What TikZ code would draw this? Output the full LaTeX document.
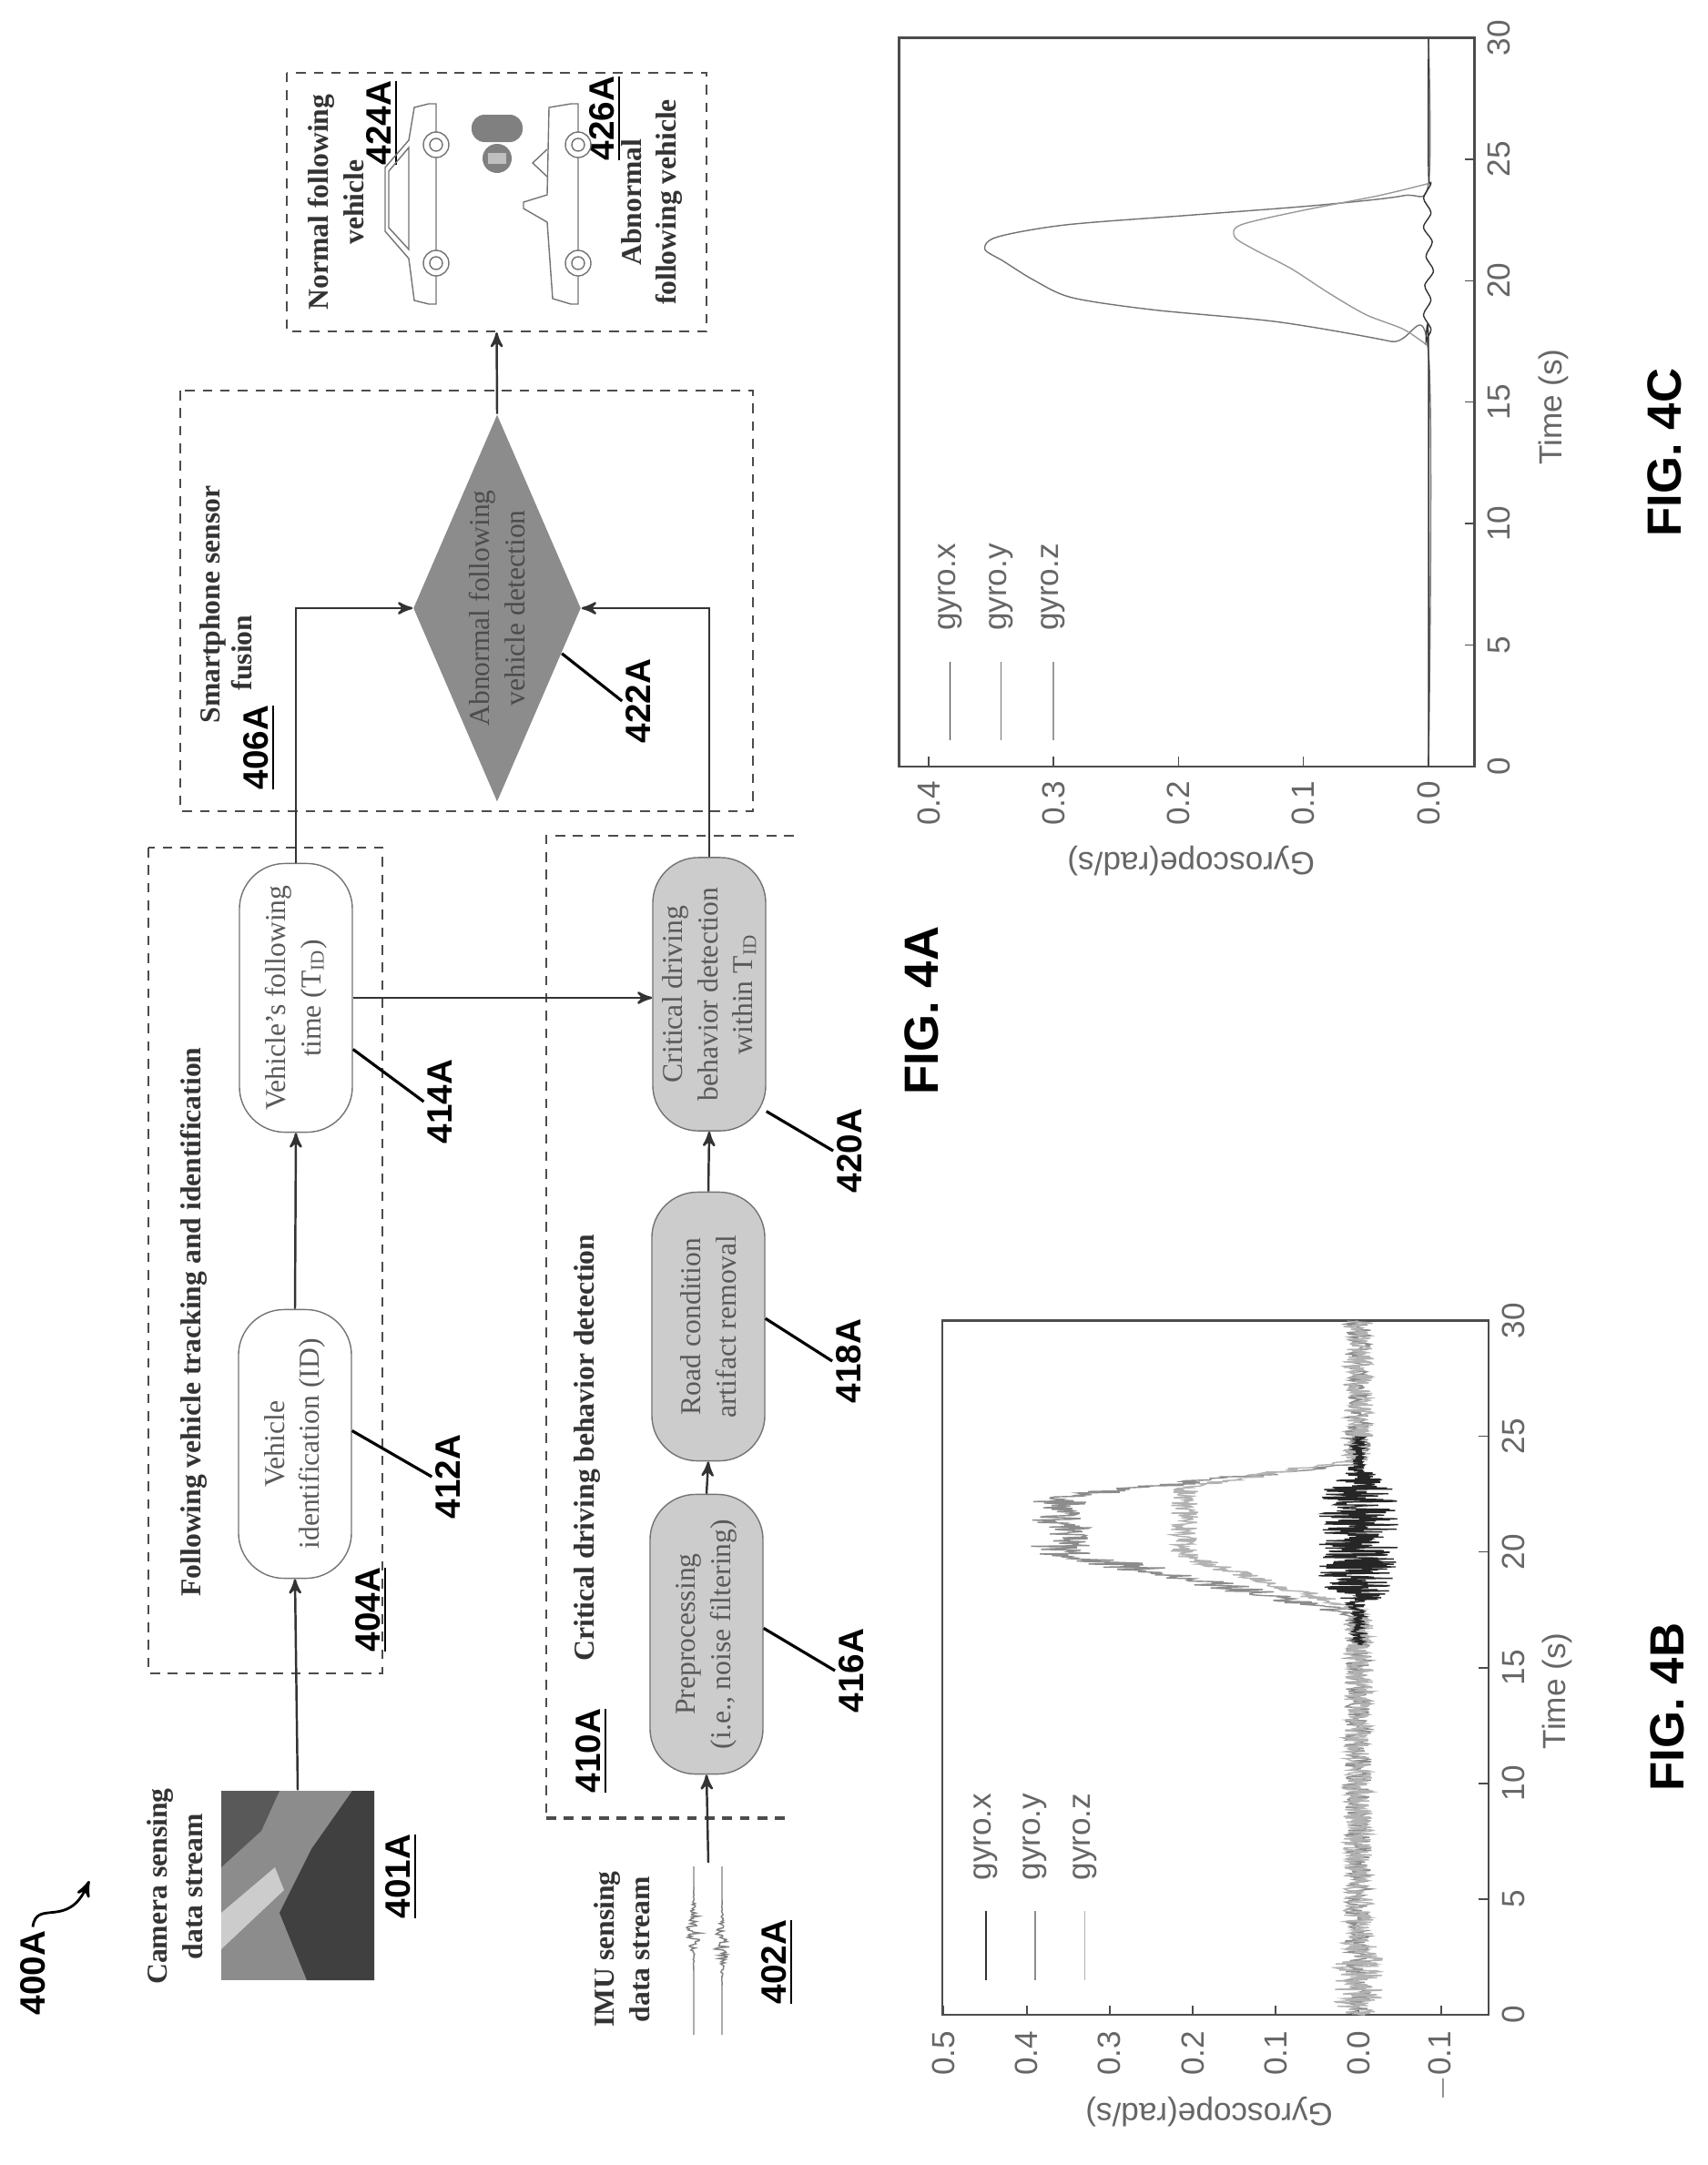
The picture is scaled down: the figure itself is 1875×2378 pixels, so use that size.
\documentclass[tikz,border=0pt]{standalone}
\usepackage{fontspec}
\setmainfont{Liberation Serif}
\setsansfont{Liberation Sans}
\usetikzlibrary{positioning}
\usetikzlibrary{arrows}
\usetikzlibrary{calc}
\usetikzlibrary{shapes.geometric}
\tikzset{>=stealth'}
\tikzset{proc/.style={draw=black!55, rounded corners=5mm, rotate=90, minimum width=2.95cm, minimum height=1.24cm, align=center, text=black!65, font=\fontsize{9}{11}\selectfont, inner sep=2pt}}
\tikzset{procg/.style={proc, fill=black!20}}
\tikzset{grp/.style={draw=black!70, dash pattern=on 3pt off 2.5pt, line width=0.6pt}}
\tikzset{lbl/.style={rotate=90, font=\sffamily\bfseries\fontsize{11}{13}\selectfont, inner sep=1pt}}
\tikzset{ttl/.style={rotate=90, font=\bfseries\fontsize{9}{11}\selectfont, align=center, text=black!80}}
\tikzset{fig/.style={rotate=90, font=\sffamily\bfseries\fontsize{15}{17}\selectfont}}
\tikzset{tick/.style={rotate=90, font=\sffamily\fontsize{10}{12}\selectfont, text=black!60, inner sep=2pt}}
\tikzset{lead/.style={line width=0.9pt}}
\tikzset{flow/.style={->, line width=0.7pt, black!80}}
\tikzset{declare function={trap(\t,\a,\b,\c,\d,\e)=\a*max(0,min(1,(\t-\b)/(\c-\b),(\e-\t)/(\e-\d)));}}

\begin{document}
\begin{tikzpicture}[x=0.01cm, y=-0.01cm]
    \useasboundingbox (0,0) rectangle (1875,2378);
    \pgfmathsetseed{42}

    % groups
    \draw[grp] (163,931) rectangle (420,1838);
    \draw[grp] (198,429) rectangle (827,891);
    \draw[grp] (872,918) -- (600,918) -- (600,1997);
    \draw[grp, line width=1.2pt] (600,1997) -- (866,1997);

    % blocks
    \node[proc] (n412) at (324,1586) {Vehicle\\identification (ID)};
    \node[proc] (n414) at (325,1096) {Vehicle's following\\time (T$_{\mathrm{ID}}$)};
    \node[procg, minimum width=3.07cm] (n416) at (776,1795) {Preprocessing\\(i.e., noise filtering)};
    \node[procg] (n418) at (778,1457) {Road condition\\artifact removal};
    \node[procg, minimum width=3cm] (n420) at (779,1092) {Critical driving\\behavior detection\\within T$_{\mathrm{ID}}$};
    \node[diamond, rotate=90, fill=black!45, shape aspect=2.3, minimum width=4.25cm, minimum height=1.84cm, inner sep=0pt, align=center, text=black!70, font=\fontsize{9}{11}\selectfont] (n422) at (546,668) {Abnormal following\\vehicle detection};
    \node[grp, rotate=90, minimum width=2.84cm, minimum height=4.61cm] (box424) at (545.5,222) {};
    \node[rotate=90, fill=black!45, minimum width=2.08cm, minimum height=1.68cm, inner sep=0pt] (cam) at (327,2071) {};
    \coordinate (imu) at (778,2046);

    % titles
    \node[ttl] (t404) at (213,1452) {Following vehicle tracking and identification};
    \node[ttl] (t410) at (645,1590) {Critical driving behavior detection};
    \node[ttl] (t406) at (234,664) {Smartphone sensor};
    \node[ttl] (t406b) at (266,717) {fusion};
    \node[ttl] (tcam) at (192,2072) {Camera sensing\\data stream};
    \node[ttl] (timu) at (683,2141) {IMU sensing\\data stream};
    \node[ttl] (t424) at (369,222) {Normal following\\vehicle};
    \node[ttl] (t426) at (716,222) {Abnormal\\following vehicle};

    % reference labels
    \node[lbl] (l400) at (36,2167) {400A};
    \node[lbl] (l401) at (441,2061) {\underline{401A}};
    \node[lbl] (l402) at (854,2155) {\underline{402A}};
    \node[lbl] (l404) at (408,1768) {\underline{404A}};
    \node[lbl] (l406) at (285,821) {\underline{406A}};
    \node[lbl] (l410) at (650,1923) {\underline{410A}};
    \node[lbl] (l412) at (492,1622) {412A};
    \node[lbl] (l414) at (483,1210) {414A};
    \node[lbl] (l416) at (935,1835) {416A};
    \node[lbl] (l418) at (932,1495) {418A};
    \node[lbl] (l420) at (933,1264) {420A};
    \node[lbl] (l422) at (701,770) {422A};
    \node[lbl] (l424) at (420,135) {\underline{424A}};
    \node[lbl] (l426) at (665,130) {\underline{426A}};
    \node[fig] (f4a) at (1012,1110) {FIG. 4A};
    \node[fig] (f4b) at (1831,1875) {FIG. 4B};
    \node[fig] (f4c) at (1828,497) {FIG. 4C};

    % flow
    \draw[flow] (cam.east) -- (n412.west);
    \draw[flow] (n412.east) -- (n414.west);
    \draw[flow] (imu) -- (n416.west);
    \draw[flow] (n416.east) -- (n418.west);
    \draw[flow] (n418.east) -- (n420.west);
    \draw[flow] (n414.south) -- (n414.south -| n420.north);
    \draw[flow] (n414.east) |- (n422.north);
    \draw[flow] (n420.east) |- (n422.south);
    \draw[flow] (n422.east) -- (box424.west);

    % leaders
    \draw[lead] (n412.-77) -- (l412.north);
    \draw[lead] (n414.-132) -- (l414.north);
    \draw[lead] (n416.-84) -- (l416.north);
    \draw[lead] (n418.-82) -- (l418.north);
    \draw[lead] (n420.-154) -- (l420.north);
    \draw[lead] (n422.-125) -- (l422.north);
    \coordinate (c400) at (98,2066);
    \draw[->, line width=0.8pt] (l400.east) .. controls (40,2085) and (75,2120) .. (c400);

    % camera frame picture
    \begin{scope}[shift={(327,2071)}, rotate=90]
        \fill[black!75] (-104,10) -- (-30,-20) -- (40,15) -- (104,60) -- (104,84) -- (-104,84) -- cycle;
        \fill[black!20] (-70,-84) -- (-30,-84) -- (20,-25) -- (-5,-15) -- cycle;
        \fill[black!65] (20,-84) -- (104,-84) -- (104,-20) -- (60,-40) -- cycle;
    \end{scope}

    % imu traces
    \draw[black!50] plot[domain=2050:2235, samples=160] ({762+9*exp(-((\x-2120)/22)^2)*rand}, \x);
    \draw[black!50] plot[domain=2050:2235, samples=160] ({793+9*exp(-((\x-2135)/22)^2)*rand}, \x);

    % vehicles
    \begin{scope}[shift={(453,224)}, rotate=90, black!55]
        \draw (-110,18) -- (-106,2) -- (-60,-4) -- (-30,-30) -- (40,-30) -- (70,-4) -- (106,2) -- (110,18) -- (110,26) -- (-110,26) -- cycle;
        \draw (-26,-26) -- (-50,-4) -- (62,-4) -- (36,-26) -- cycle;
        \draw[fill=white] (-65,26) circle (14) (65,26) circle (14);
        \draw (-65,26) circle (7) (65,26) circle (7);
    \end{scope}
    \begin{scope}[shift={(609,224)}, rotate=90, black!55]
        \draw (-110,18) -- (-104,-2) -- (-20,-8) -- (-5,-34) -- (2,-34) -- (10,-8) -- (106,-6) -- (110,18) -- (110,26) -- (-110,26) -- cycle;
        \draw (30,-8) -- (45,-24) -- (60,-8);
        \draw[fill=white] (-65,26) circle (14) (65,26) circle (14);
        \draw (-65,26) circle (7) (65,26) circle (7);
    \end{scope}
    \begin{scope}[shift={(546,160)}, rotate=90]
        \fill[black!50] (-14,0) circle (16);
        \fill[black!50, rounded corners=4] (4,-28) rectangle (34,28);
        \fill[black!25] (-20,-10) rectangle (-8,10);
    \end{scope}

    % FIG. 4C plot
    \begin{scope}[shift={(1569,842)}, rotate=90, x=0.2667cm, y=13.72cm]
        \draw[line width=0.8pt, black!70] (0,-0.037) rectangle (30,0.4235);
        \foreach \t in {0,5,...,30} {
            \draw[black!70] (\t,-0.037) -- ++(0,0.008);
            \node[tick, anchor=north] at (\t,-0.042) {\t};
        }
        \foreach \v/\s in {0/0.0,0.1/0.1,0.2/0.2,0.3/0.3,0.4/0.4} {
            \draw[black!70] (0,\v) -- ++(0.4,0);
            \node[tick, anchor=east] at (-0.3,\v) {\s};
        }
        \node[tick, rotate=90] at (-3.9,0.19) {Gyroscope(rad/s)};
        \node[tick] at (14.8,-0.1) {Time (s)};
        \draw[black!55] plot[smooth] coordinates {(0,0) (17,0) (17.5,0.03) (18.3,0.12) (18.8,0.22) (19.3,0.285) (20,0.315) (20.8,0.34) (21.3,0.355) (21.8,0.345) (22.3,0.29) (22.7,0.19) (23.1,0.09) (23.5,0.02) (24,0) (30,0)};
        \draw[black!40] plot[smooth] coordinates {(17.3,0) (18,0.02) (18.6,0.05) (19.5,0.08) (20.5,0.11) (21.3,0.14) (21.8,0.155) (22.3,0.15) (22.9,0.1) (23.5,0.04) (24,0)};
        \draw[black!80] plot[smooth] coordinates {(0,0) (17,0) (17.5,0.002) (18,-0.002) (18.6,0.004) (19.2,-0.002) (19.8,0.003) (20.4,-0.004) (21,0.002) (21.6,-0.003) (22.2,0.004) (22.8,-0.002) (23.4,0.004) (24,-0.002) (24.5,0) (30,0)};
        \draw[black!80] (1.1,0.383) -- (4.3,0.383);
        \draw[black!55] (1.1,0.342) -- (4.3,0.342);
        \draw[black!40] (1.1,0.30) -- (4.3,0.30);
        \node[tick, anchor=west] at (5.3,0.383) {gyro.x};
        \node[tick, anchor=west] at (5.3,0.342) {gyro.y};
        \node[tick, anchor=west] at (5.3,0.30) {gyro.z};
    \end{scope}

    % FIG. 4B plot
    \begin{scope}[shift={(1492,2213)}, rotate=90, x=0.254cm, y=9.1cm]
        \draw[line width=0.8pt, black!70] (0,-0.157) rectangle (30,0.502);
        \foreach \t in {0,5,...,30} {
            \draw[black!70] (\t,-0.157) -- ++(0,0.012);
            \node[tick, anchor=north] at (\t,-0.165) {\t};
        }
        \foreach \v/\s in {-0.1/$-$0.1,0/0.0,0.1/0.1,0.2/0.2,0.3/0.3,0.4/0.4,0.5/0.5} {
            \draw[black!70] (0,\v) -- ++(0.4,0);
            \node[tick, anchor=east] at (-0.4,\v) {\s};
        }
        \node[tick, rotate=90] at (-4.2,0.18) {Gyroscope(rad/s)};
        \node[tick] at (14,-0.24) {Time (s)};
        \draw[black!45] plot[domain=0:30, samples=900] (\x, {trap(\x,0.36,17.3,20,22.4,23.8)+(0.016+0.02*trap(\x,1,17,19,22,24))*rand});
        \draw[black!30] plot[domain=0:30, samples=900] (\x, {trap(\x,0.21,17.5,19.8,22.8,24)+(0.018+0.012*trap(\x,1,0,0.5,2.5,3.5))*rand});
        \draw[black!85] plot[domain=16:25, samples=400] (\x, {(0.008+0.04*trap(\x,1,17.5,18.5,22.5,23.8))*rand});
        \draw[black!80] (1.5,0.449) -- (4.5,0.449);
        \draw[black!45] (1.5,0.39) -- (4.5,0.39);
        \draw[black!30] (1.5,0.33) -- (4.5,0.33);
        \node[tick, anchor=west] at (5.5,0.449) {gyro.x};
        \node[tick, anchor=west] at (5.5,0.39) {gyro.y};
        \node[tick, anchor=west] at (5.5,0.33) {gyro.z};
    \end{scope}
\end{tikzpicture}
\end{document}
